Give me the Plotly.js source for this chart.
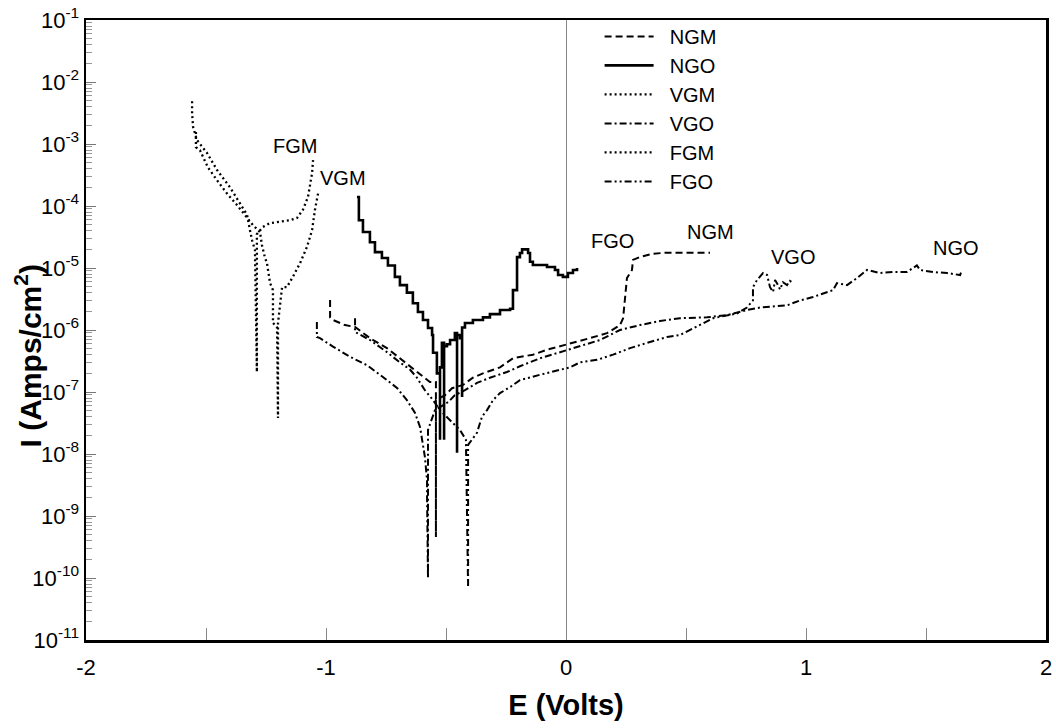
<!DOCTYPE html>
<html>
<head>
<meta charset="utf-8">
<script src="https://cdn.plot.ly/plotly-3.0.1.min.js"></script>
<style>html,body{margin:0;padding:0;background:#fff;}#chart{width:1056px;height:728px;}</style>
</head>
<body>
<div id="chart"></div>
<script>
// ---- data (E in Volts, I in Amps/cm^2) ----
var seriesNames = ["NGM", "NGO", "VGM", "VGO", "FGM", "FGO"];

var ngmE = [-0.983,-0.983,-0.971,-0.921,-0.879,-0.817,-0.746,-0.692,-0.621,-0.567,-0.542,-0.542,-0.542,-0.504,-0.475,-0.429,-0.388,-0.346,-0.275,-0.221,-0.138,-0.079,0.004,0.100,0.171,0.225,0.238,0.246,0.254,0.275,0.279,0.308,0.363,0.420,0.600];
var ngmI = [3.05e-6,1.6e-6,1.45e-6,1.2e-6,1.12e-6,7.4e-7,5.1e-7,3.5e-7,2.1e-7,1.45e-7,1.45e-7,4.6e-10,7.4e-8,8.9e-8,1.15e-7,1.3e-7,1.7e-7,2.0e-7,2.5e-7,3.5e-7,4.0e-7,4.8e-7,5.8e-7,7.4e-7,8.9e-7,1.2e-6,1.55e-6,3.0e-6,6.9e-6,9.3e-6,1.35e-5,1.5e-5,1.7e-5,1.77e-5,1.77e-5];

var ngoE = [-0.871,-0.863,-0.846,-0.817,-0.796,-0.767,-0.742,-0.713,-0.692,-0.663,-0.638,-0.617,-0.596,-0.575,-0.558,-0.554,-0.538,-0.525,-0.525,-0.517,-0.508,-0.508,-0.508,-0.496,-0.483,-0.463,-0.454,-0.454,-0.454,-0.442,-0.433,-0.433,-0.433,-0.421,-0.388,-0.346,-0.317,-0.275,-0.233,-0.221,-0.221,-0.204,-0.204,-0.192,-0.183,-0.158,-0.150,-0.138,-0.079,-0.046,-0.033,-0.013,0.008,0.029,0.046];
var ngoI = [1.4e-4,5.9e-5,3.8e-5,2.6e-5,1.8e-5,1.45e-5,1.1e-5,7.2e-6,5.3e-6,4.0e-6,2.7e-6,1.95e-6,1.45e-6,1.08e-6,8.3e-7,4.3e-7,2.0e-7,1.7e-8,2.5e-7,6.2e-7,6.2e-7,1.7e-8,5.5e-7,5.9e-7,6.9e-7,8.9e-7,8.9e-7,1.05e-8,8.3e-7,7.4e-7,1.1e-6,8.3e-8,1.1e-6,1.3e-6,1.45e-6,1.6e-6,1.8e-6,2.1e-6,2.2e-6,2.5e-6,4.4e-6,4.8e-6,1.5e-5,1.75e-5,2.0e-5,1.75e-5,1.26e-5,1.12e-5,1.04e-5,9.3e-6,7.7e-6,7.2e-6,8.3e-6,9.3e-6,1.0e-5];

var vgmE = [-1.542,-1.542,-1.525,-1.492,-1.454,-1.413,-1.371,-1.329,-1.304,-1.275,-1.267,-1.254,-1.246,-1.233,-1.221,-1.221,-1.204,-1.200,-1.200,-1.183,-1.163,-1.138,-1.108,-1.079,-1.058,-1.046,-1.033];
var vgmI = [1.56e-3,8.9e-4,7.9e-4,4.2e-4,2.6e-4,1.6e-4,1.04e-4,6.6e-5,4.9e-5,3.8e-5,2.35e-5,1.45e-5,1.2e-5,5.7e-6,4.4e-6,1.3e-6,1.1e-6,3.8e-8,1.3e-6,4.9e-6,4.9e-6,7.2e-6,1.2e-5,2.2e-5,4.1e-5,8.7e-5,1.6e-4];

var vgoE = [-1.038,-1.038,-1.025,-0.971,-0.900,-0.829,-0.763,-0.704,-0.663,-0.629,-0.608,-0.596,-0.588,-0.579,-0.579,-0.575,-0.575,-0.546,-0.490,-0.463,-0.421,-0.371,-0.317,-0.246,-0.192,-0.108,-0.025,0.058,0.142,0.225,0.308,0.392,0.475,0.588,0.671,0.754,0.808,0.921,0.975,1.029,1.088,1.113,1.129,1.171,1.213,1.254,1.308,1.363,1.420,1.462,1.475,1.529,1.588,1.642,1.650];
var vgoI = [1.35e-6,7.7e-7,7.4e-7,5.4e-7,3.7e-7,2.7e-7,1.75e-7,1.16e-7,7.4e-8,4.6e-8,2.7e-8,1.5e-8,9e-9,3.8e-9,2.0e-9,1.0e-10,2.45e-8,5.1e-8,6.9e-8,8.9e-8,1.07e-7,1.4e-7,1.7e-7,2.1e-7,2.6e-7,3.5e-7,4.4e-7,5.5e-7,6.9e-7,1.0e-6,1.2e-6,1.4e-6,1.55e-6,1.6e-6,1.74e-6,2.1e-6,2.3e-6,2.5e-6,3.0e-6,3.4e-6,4.0e-6,4.4e-6,5.7e-6,5.3e-6,6.9e-6,9.3e-6,8.3e-6,8.6e-6,8.6e-6,1.1e-5,9.3e-6,8.6e-6,8.3e-6,7.7e-6,9.3e-6];

var fgmE = [-1.558,-1.558,-1.554,-1.538,-1.496,-1.454,-1.400,-1.358,-1.329,-1.317,-1.308,-1.296,-1.288,-1.288,-1.275,-1.263,-1.233,-1.204,-1.150,-1.121,-1.096,-1.075,-1.067,-1.058,-1.054];
var fgmI = [4.9e-3,3.2e-3,1.9e-3,1.16e-3,7.2e-4,3.8e-4,2.0e-4,1.12e-4,7.2e-5,4.1e-5,2.8e-5,1.95e-5,2.1e-7,3.5e-5,4.1e-5,4.6e-5,5.3e-5,5.5e-5,5.9e-5,6.4e-5,8.7e-5,1.4e-4,2.3e-4,3.4e-4,5.5e-4];

var fgoE = [-0.879,-0.879,-0.817,-0.746,-0.692,-0.650,-0.621,-0.588,-0.554,-0.525,-0.483,-0.442,-0.417,-0.408,-0.408,-0.371,-0.350,-0.329,-0.304,-0.275,-0.233,-0.192,-0.108,-0.025,0.017,0.058,0.129,0.196,0.267,0.338,0.421,0.475,0.529,0.571,0.613,0.713,0.754,0.779,0.779,0.796,0.821,0.838,0.850,0.863,0.871,0.879,0.892,0.904,0.921,0.933,0.946];
var fgoI = [1.55e-6,9.3e-7,6.9e-7,4.4e-7,3.0e-7,2.3e-7,1.7e-7,1.07e-7,7.4e-8,5.1e-8,3.5e-8,2.45e-8,1.7e-8,7e-11,1.4e-8,2.2e-8,4e-8,5.1e-8,7.4e-8,9.6e-8,1.2e-7,1.55e-7,1.9e-7,2.3e-7,2.5e-7,3.0e-7,3.3e-7,4.0e-7,5.1e-7,6.2e-7,7.7e-7,8.3e-7,1.07e-6,1.3e-6,1.55e-6,1.85e-6,2.3e-6,3.0e-6,4.9e-6,6.4e-6,8.3e-6,7.7e-6,4.9e-6,4.1e-6,6.4e-6,5.7e-6,4.5e-6,5.9e-6,5.3e-6,6.2e-6,5.7e-6];

// in-plot curve labels: text, E position, log10(I) position
var labelTexts = ["FGM", "VGM", "FGO", "NGM", "VGO", "NGO"];
var labelE = [-1.129, -0.929, 0.192, 0.600, 0.946, 1.625];
var labelLogI = [-3.03, -3.55, -4.56, -4.42, -4.82, -4.68];

// tick labels
var yTickVals = [1e-1,1e-2,1e-3,1e-4,1e-5,1e-6,1e-7,1e-8,1e-9,1e-10,1e-11];
var yTickText = ["10<sup>-1</sup>","10<sup>-2</sup>","10<sup>-3</sup>","10<sup>-4</sup>","10<sup>-5</sup>","10<sup>-6</sup>","10<sup>-7</sup>","10<sup>-8</sup>","10<sup>-9</sup>","10<sup>-10</sup>","10<sup>-11</sup>"];
var xTickVals = [-2,-1,0,1,2];
var xTickText = ["-2","-1","0","1","2"];
var xTitle = "E (Volts)";
var yTitle = "I (Amps/cm<sup>2</sup>)";

// ---- styling ----
var FONT = "Arial, 'Liberation Sans', Helvetica, sans-serif";
var dashes = ["7px,4px", "solid", "2px,3px", "7px,3px,2px,3px", "2px,3px", "7px,3px,2px,3px,2px,3px"];
var widths = [2, 2.6, 2.3, 2, 2.3, 2];
var shapes = ["linear", "hv", "linear", "linear", "linear", "linear"];
var xs = [ngmE, ngoE, vgmE, vgoE, fgmE, fgoE];
var ys = [ngmI, ngoI, vgmI, vgoI, fgmI, fgoI];

var traces = seriesNames.map(function(n, i) {
  return {
    x: xs[i], y: ys[i], name: "\u00a0\u00a0" + n, type: "scatter", mode: "lines",
    legendgroup: n,
    line: {color: "#000", width: widths[i], dash: dashes[i], shape: shapes[i]}
  };
});

var minorVals = [];
for (var e = -11; e < -1; e++) {
  for (var m = 2; m <= 9; m++) minorVals.push(m * Math.pow(10, e));
}

var annotations = labelTexts.map(function(t, i) {
  return {x: labelE[i], y: labelLogI[i], xref: "x", yref: "y", text: t, showarrow: false,
          font: {family: FONT, size: 20, color: "#000"}};
});
annotations.push({xref: "paper", yref: "paper", x: -0.06, y: 0.458, text: yTitle,
  textangle: -90, showarrow: false, xanchor: "center", yanchor: "middle",
  font: {family: FONT, size: 30, color: "#000", weight: "bold"}});

var layout = {
  width: 1056, height: 728,
  margin: {l: 86, r: 10, t: 20, b: 88},
  paper_bgcolor: "#fff", plot_bgcolor: "#fff",
  font: {family: FONT, color: "#000", size: 20},
  showlegend: true,
  legend: {x: 0.535, y: 1.005, xanchor: "left", yanchor: "top", bgcolor: "rgba(0,0,0,0)",
           font: {family: FONT, size: 20, color: "#000"}, tracegroupgap: 0, itemwidth: 49,
           traceorder: "normal"},
  xaxis: {
    range: [-2, 2], tickvals: xTickVals, ticktext: xTickText, tickmode: "array",
    ticks: "inside", ticklen: 12, tickcolor: "#888", tickwidth: 1,
    minor: {tickvals: [-1.5, -0.5, 0.5, 1.5], ticks: "inside", ticklen: 12, tickcolor: "#888", tickwidth: 1},
    showgrid: false, zeroline: true, zerolinecolor: "#888", zerolinewidth: 1,
    showline: true, linecolor: "#000", linewidth: 2.5, mirror: true,
    ticklabelstandoff: 6,
    tickfont: {family: FONT, size: 22, color: "#000"},
    title: {text: xTitle, font: {family: FONT, size: 29, color: "#000", weight: "bold"}, standoff: 16}
  },
  yaxis: {
    type: "log", range: [-11, -1], tickvals: yTickVals, ticktext: yTickText, tickmode: "array",
    ticks: "inside", ticklen: 10, tickcolor: "#777", tickwidth: 1,
    minor: {tickvals: minorVals, ticks: "inside", ticklen: 6, tickcolor: "#999", tickwidth: 1},
    showgrid: false, zeroline: false,
    showline: true, linecolor: "#000", linewidth: 2.5, mirror: true,
    tickfont: {family: FONT, size: 22, color: "#000"}
  },
  annotations: annotations
};

Plotly.newPlot("chart", traces, layout, {displayModeBar: false, staticPlot: true});
</script>
</body>
</html>
